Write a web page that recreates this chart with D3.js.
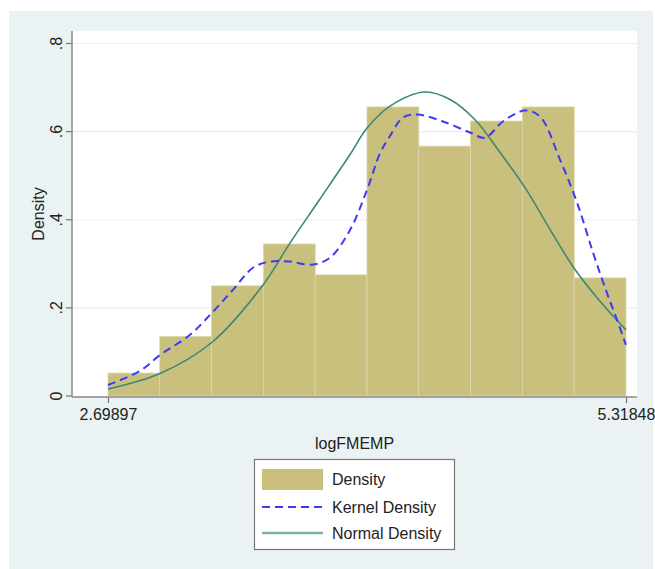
<!DOCTYPE html>
<html>
<head>
<meta charset="utf-8">
<script src="https://cdn.jsdelivr.net/npm/d3@7"></script>
<style>
  body { margin: 0; background: #fff; }
  text { font-family: "Liberation Sans", Arial, sans-serif; fill: #222; }
</style>
</head>
<body>
<script>

// histogram bins (10 bins between min and max of logFMEMP)
var binStart = 2.69897, binEnd = 5.31848, binCount = 10;
var binDensity = [0.052, 0.135, 0.25, 0.345, 0.275, 0.656, 0.567, 0.624, 0.656, 0.268];

// kernel density
var kernelX = [2.699, 2.861, 2.962, 3.114, 3.225, 3.331, 3.432, 3.518, 3.619, 3.731, 3.822, 3.923,
               4.009, 4.074, 4.125, 4.191, 4.262, 4.393, 4.530, 4.605, 4.696, 4.808, 4.884,
               4.985, 5.071, 5.152, 5.222, 5.273, 5.318];
var kernelY = [0.025, 0.057, 0.093, 0.139, 0.189, 0.241, 0.291, 0.305, 0.305, 0.298, 0.314, 0.377,
               0.468, 0.55, 0.59, 0.632, 0.639, 0.623, 0.598, 0.586, 0.623, 0.648, 0.634,
               0.536, 0.439, 0.325, 0.234, 0.173, 0.116];

// normal density
var normalX = [2.699, 2.962, 3.225, 3.483, 3.619, 3.771, 3.923, 4.009, 4.125, 4.302, 4.429,
               4.555, 4.681, 4.808, 4.934, 5.056, 5.187, 5.318];
var normalY = [0.016, 0.051, 0.122, 0.252, 0.347, 0.447, 0.548, 0.608, 0.658, 0.69, 0.673,
               0.627, 0.553, 0.473, 0.378, 0.29, 0.215, 0.15];

var yTicks = [0, 0.2, 0.4, 0.6, 0.8];
var yTickLabels = ["0", ".2", ".4", ".6", ".8"];
var xTicks = [2.69897, 5.31848];
var legendLabels = ["Density", "Kernel Density", "Normal Density"];

var W = 655, H = 569;
var plot = {left: 72, right: 637, top: 31, bottom: 397};

var barFill = "#c9c07e", kernelColor = "#3b3bf5", normalColor = "#3f8775";

var svg = d3.select("body").append("svg")
    .attr("width", W).attr("height", H);

// outer graph region
svg.append("rect").attr("x", 9).attr("y", 11).attr("width", 644).attr("height", H - 11)
    .attr("fill", "#eaf2f3");
svg.append("rect").attr("x", plot.left).attr("y", plot.top)
    .attr("width", plot.right - plot.left).attr("height", plot.bottom - plot.top)
    .attr("fill", "#fff");

var x = d3.scaleLinear().domain([binStart, binEnd]).range([108, 626]);
var y = d3.scaleLinear().domain([0, 0.8]).range([396, 43.5]);

// grid
svg.append("g").selectAll("line")
    .data(yTicks.slice(1))
  .enter().append("line")
    .attr("x1", plot.left).attr("x2", plot.right)
    .attr("y1", function(d){ return y(d); }).attr("y2", function(d){ return y(d); })
    .style("stroke", "#e6eff1").style("stroke-width", 1.2);

// bars
var bw = (binEnd - binStart) / binCount;
svg.append("g").selectAll("rect")
    .data(binDensity)
  .enter().append("rect")
    .attr("x", function(d, i){ return x(binStart + i * bw); })
    .attr("width", function(d, i){ return x(binStart + (i + 1) * bw) - x(binStart + i * bw); })
    .attr("y", function(d){ return y(d); })
    .attr("height", function(d){ return y(0) - y(d); })
    .style("fill", barFill)
    .style("stroke", "#ddd6ab").style("stroke-width", 0.8);

var line = d3.line()
    .x(function(d){ return x(d[0]); })
    .y(function(d){ return y(d[1]); })
    .curve(d3.curveCatmullRom.alpha(0.5));

svg.append("path")
    .datum(d3.zip(normalX, normalY))
    .attr("d", line)
    .style("fill", "none").style("stroke", normalColor).style("stroke-width", 1.6);

svg.append("path")
    .datum(d3.zip(kernelX, kernelY))
    .attr("d", line)
    .style("fill", "none").style("stroke", kernelColor).style("stroke-width", 2)
    .style("stroke-dasharray", "8,5");

// axes
var yAxis = d3.axisLeft(y).tickValues(yTicks).tickSize(6).tickPadding(3)
    .tickFormat(function(d, i){ return yTickLabels[i]; });
var gy = svg.append("g").attr("transform", "translate(" + plot.left + ",0)").call(yAxis);
gy.select(".domain").remove();
gy.selectAll(".tick").attr("transform", "translate(0,0)");
gy.selectAll(".tick line")
    .attr("y1", function(d){ return y(d); }).attr("y2", function(d){ return y(d); })
    .style("stroke", "#777").style("stroke-width", 1.2);
gy.selectAll(".tick text")
    .attr("x", 0).attr("y", 0).attr("dy", 0)
    .style("text-anchor", "middle")
    .style("font-size", "16px")
    .attr("transform", function(d){ return "translate(-10," + y(d) + ") rotate(-90)"; });

svg.append("line").attr("x1", plot.left).attr("x2", plot.left)
    .attr("y1", plot.top).attr("y2", plot.bottom)
    .style("stroke", "#888").style("stroke-width", 1.5);

var xAxis = d3.axisBottom(x).tickValues(xTicks).tickSize(6).tickPadding(6)
    .tickFormat(d3.format(".6"));
var gx = svg.append("g").attr("transform", "translate(0," + plot.bottom + ")").call(xAxis);
gx.select(".domain").remove();
gx.selectAll(".tick line").style("stroke", "#777").style("stroke-width", 1.2);
gx.selectAll(".tick text").style("font-size", "16px").attr("fill", "#222");

svg.append("line").attr("x1", plot.left).attr("x2", plot.right)
    .attr("y1", plot.bottom).attr("y2", plot.bottom)
    .style("stroke", "#888").style("stroke-width", 1.5);

// titles
svg.append("text").attr("x", (plot.left + plot.right) / 2).attr("y", 449)
    .style("text-anchor", "middle").style("font-size", "16px").text("logFMEMP");
svg.append("text").attr("transform", "translate(44,214) rotate(-90)")
    .style("text-anchor", "middle").style("font-size", "16px").text("Density");

// legend
var lg = svg.append("g");
lg.append("rect").attr("x", 254.5).attr("y", 459.5).attr("width", 200).attr("height", 90)
    .attr("fill", "#fff").style("stroke", "#777").style("stroke-width", 1.2);
var rowY = [479, 507, 533];
lg.append("rect").attr("x", 262).attr("y", rowY[0] - 10).attr("width", 61).attr("height", 21)
    .style("fill", barFill);
lg.append("line").attr("x1", 262).attr("x2", 323).attr("y1", rowY[1]).attr("y2", rowY[1])
    .style("stroke", kernelColor).style("stroke-width", 2).style("stroke-dasharray", "8,5");
lg.append("line").attr("x1", 262).attr("x2", 323).attr("y1", rowY[2]).attr("y2", rowY[2])
    .style("stroke", "#7fb0a3").style("stroke-width", 2.5);
lg.selectAll("text.lab").data(legendLabels).enter().append("text")
    .attr("class", "lab")
    .attr("x", 332).attr("y", function(d, i){ return rowY[i] + 6; })
    .style("font-size", "16px").text(function(d){ return d; });

</script>
</body>
</html>
